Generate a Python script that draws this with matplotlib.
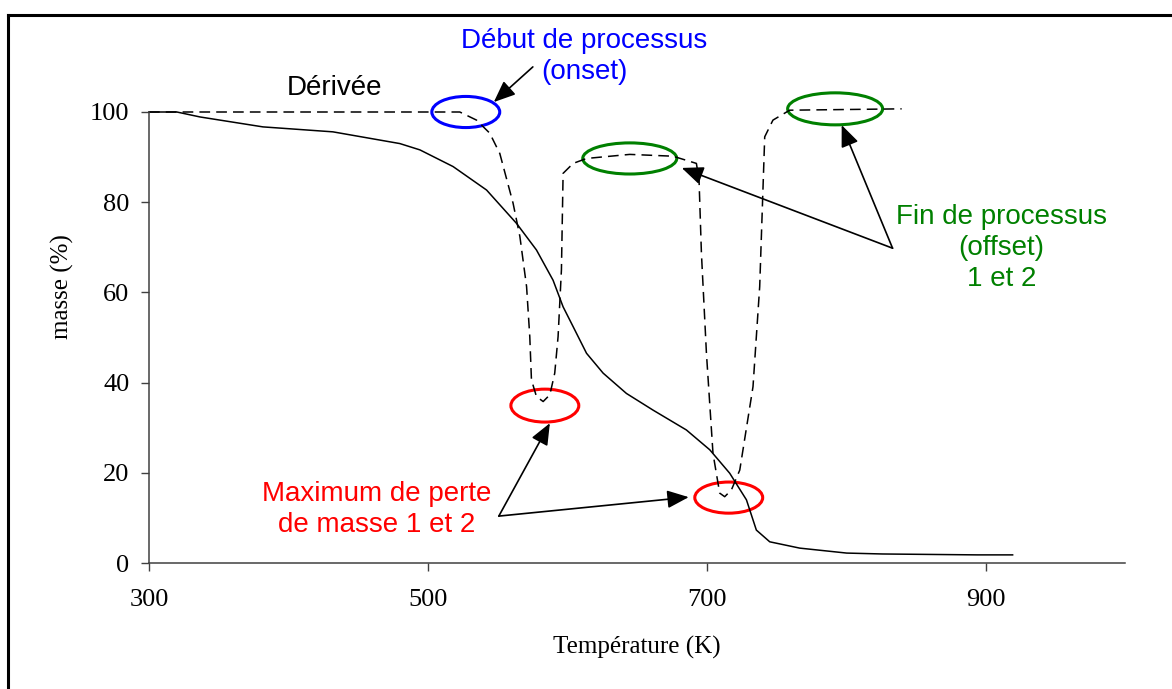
import numpy as np
import matplotlib
matplotlib.use('Agg')
import matplotlib.pyplot as plt
from matplotlib.patches import Ellipse
from matplotlib.lines import Line2D

# courbe de masse (ATG)
temp_masse = [300, 320, 336.6, 381.7, 431.9, 479.9, 494.3, 518.1, 542.1, 563.6,
              577.9, 589.8, 597.0, 604.2, 613.8, 625.7, 642.4, 661.5, 685.4, 702.2,
              716.5, 728.5, 735.6, 745.2, 766.7, 800.4, 826, 894, 919.4]
masse = [100, 100, 98.9, 96.7, 95.6, 93.0, 91.6, 87.9, 82.7, 75.3,
         69.4, 62.7, 56.8, 52.4, 46.5, 42.1, 37.6, 33.9, 29.5, 25.1,
         19.9, 14.0, 7.3, 4.7, 3.3, 2.2, 2.0, 1.8, 1.8]

# dérivée (tracée à la même échelle)
temp_deriv = [300, 522.9, 534.9, 544.4, 551.6, 561.1, 566, 570.8, 573.1, 574.3,
              577.9, 582.7, 587.5, 591.0, 593.4, 595.8, 597.0, 604.2, 613.8, 644.8,
              675.8, 692.6, 694.5, 696.2, 699.8, 704.5, 709.3, 712.9, 717.7, 723.7,
              733.2, 738, 740.4, 741.6, 747.5, 759.5, 839.8]
deriv = [100, 100, 98.2, 95.3, 90.8, 79.8, 72.4, 61.3, 50.2, 40.6,
         36.9, 35.8, 37.3, 42.1, 50.2, 65.0, 86.4, 88.6, 89.7, 90.6,
         90.2, 88.6, 84.9, 68.7, 46.5, 24.3, 15.5, 14.7, 16.2, 20.6,
         39.1, 61.3, 83.4, 94.5, 98.2, 100.4, 100.7]

x_ticks = [300, 500, 700, 900]
y_ticks = [0, 20, 40, 60, 80, 100]

serif = ['Liberation Serif', 'DejaVu Serif']
sans = ['Liberation Sans', 'DejaVu Sans']

fig = plt.figure(figsize=(11.72, 6.89), dpi=100)
ax = fig.add_axes([149 / 1172, 1 - 563 / 689, (1125 - 149) / 1172, (563 - 112) / 689])

ax.plot(temp_masse, masse, color='black', lw=1.1, clip_on=False)
ax.plot(temp_deriv, deriv, color='black', lw=1.1, dashes=(7, 4), clip_on=False)

ax.set_xlim(300, 1000)
ax.set_ylim(0, 100)
ax.set_xticks(x_ticks)
ax.set_yticks(y_ticks)
ax.set_xticklabels([str(t) for t in x_ticks], family=serif, fontsize=19)
ax.set_yticklabels([str(t) for t in y_ticks], family=serif, fontsize=19)
ax.tick_params(axis='x', direction='out', length=6, width=1, color='#404040', pad=13)
ax.tick_params(axis='y', direction='out', length=6, width=1, color='#404040', pad=8)

for s in ['top', 'right']:
    ax.spines[s].set_visible(False)
for s in ['left', 'bottom']:
    ax.spines[s].set_color('#404040')
    ax.spines[s].set_linewidth(1.1)

ax.set_xlabel('Température (K)', family=serif, fontsize=18, labelpad=18)
ax.set_ylabel('masse (%)', family=serif, fontsize=18)
ax.yaxis.set_label_coords(-0.077, 0.612)

# ellipses
ellipses = [
    (527.2, 100.0, 48.7, 6.9, 'blue'),
    (644.8, 89.7, 67.4, 6.9, 'green'),
    (792.1, 100.7, 68.1, 7.1, 'green'),
    (583.9, 34.9, 48.7, 7.3, 'red'),
    (715.8, 14.5, 48.7, 6.9, 'red'),
]
for cx, cy, w, h, c in ellipses:
    ax.add_patch(Ellipse((cx, cy), w, h, fill=False, edgecolor=c, lw=2.2, clip_on=False))

arrow = dict(arrowstyle='-|>,head_length=0.6,head_width=0.25', mutation_scale=22,
             color='black', lw=1.2, shrinkA=0, shrinkB=0)
ax.annotate('', xy=(547.3, 102.2), xytext=(575.3, 110.0), arrowprops=arrow, annotation_clip=False)
ax.annotate('', xy=(682.1, 87.6), xytext=(833.3, 69.8), arrowprops=arrow, annotation_clip=False)
ax.annotate('', xy=(796.8, 97.1), xytext=(833.3, 69.8), arrowprops=arrow, annotation_clip=False)
ax.annotate('', xy=(587.5, 31.0), xytext=(550.9, 10.4), arrowprops=arrow, annotation_clip=False)
ax.annotate('', xy=(687.1, 14.6), xytext=(550.9, 10.4), arrowprops=arrow, annotation_clip=False)

ax.text(433.3, 105.3, 'Dérivée', family=sans, fontsize=20, color='black',
        ha='center', va='center')
ax.text(612.2, 112.4, 'Début de processus\n(onset)', family=sans, fontsize=20,
        color='blue', ha='center', va='center', linespacing=1.25)
ax.text(911.5, 69.8, 'Fin de processus\n(offset)\n1 et 2', family=sans, fontsize=20,
        color='green', ha='center', va='center', linespacing=1.25)
ax.text(463.4, 11.8, 'Maximum de perte\nde masse 1 et 2', family=sans, fontsize=20,
        color='red', ha='center', va='center', linespacing=1.25)

# cadre
fig.add_artist(Line2D([8 / 1172, 1], [1 - 15 / 689, 1 - 15 / 689], color='black', lw=2.2))
fig.add_artist(Line2D([8 / 1172, 8 / 1172], [0, 1 - 15 / 689], color='black', lw=2.2))

fig.savefig('out.png', dpi=100)
